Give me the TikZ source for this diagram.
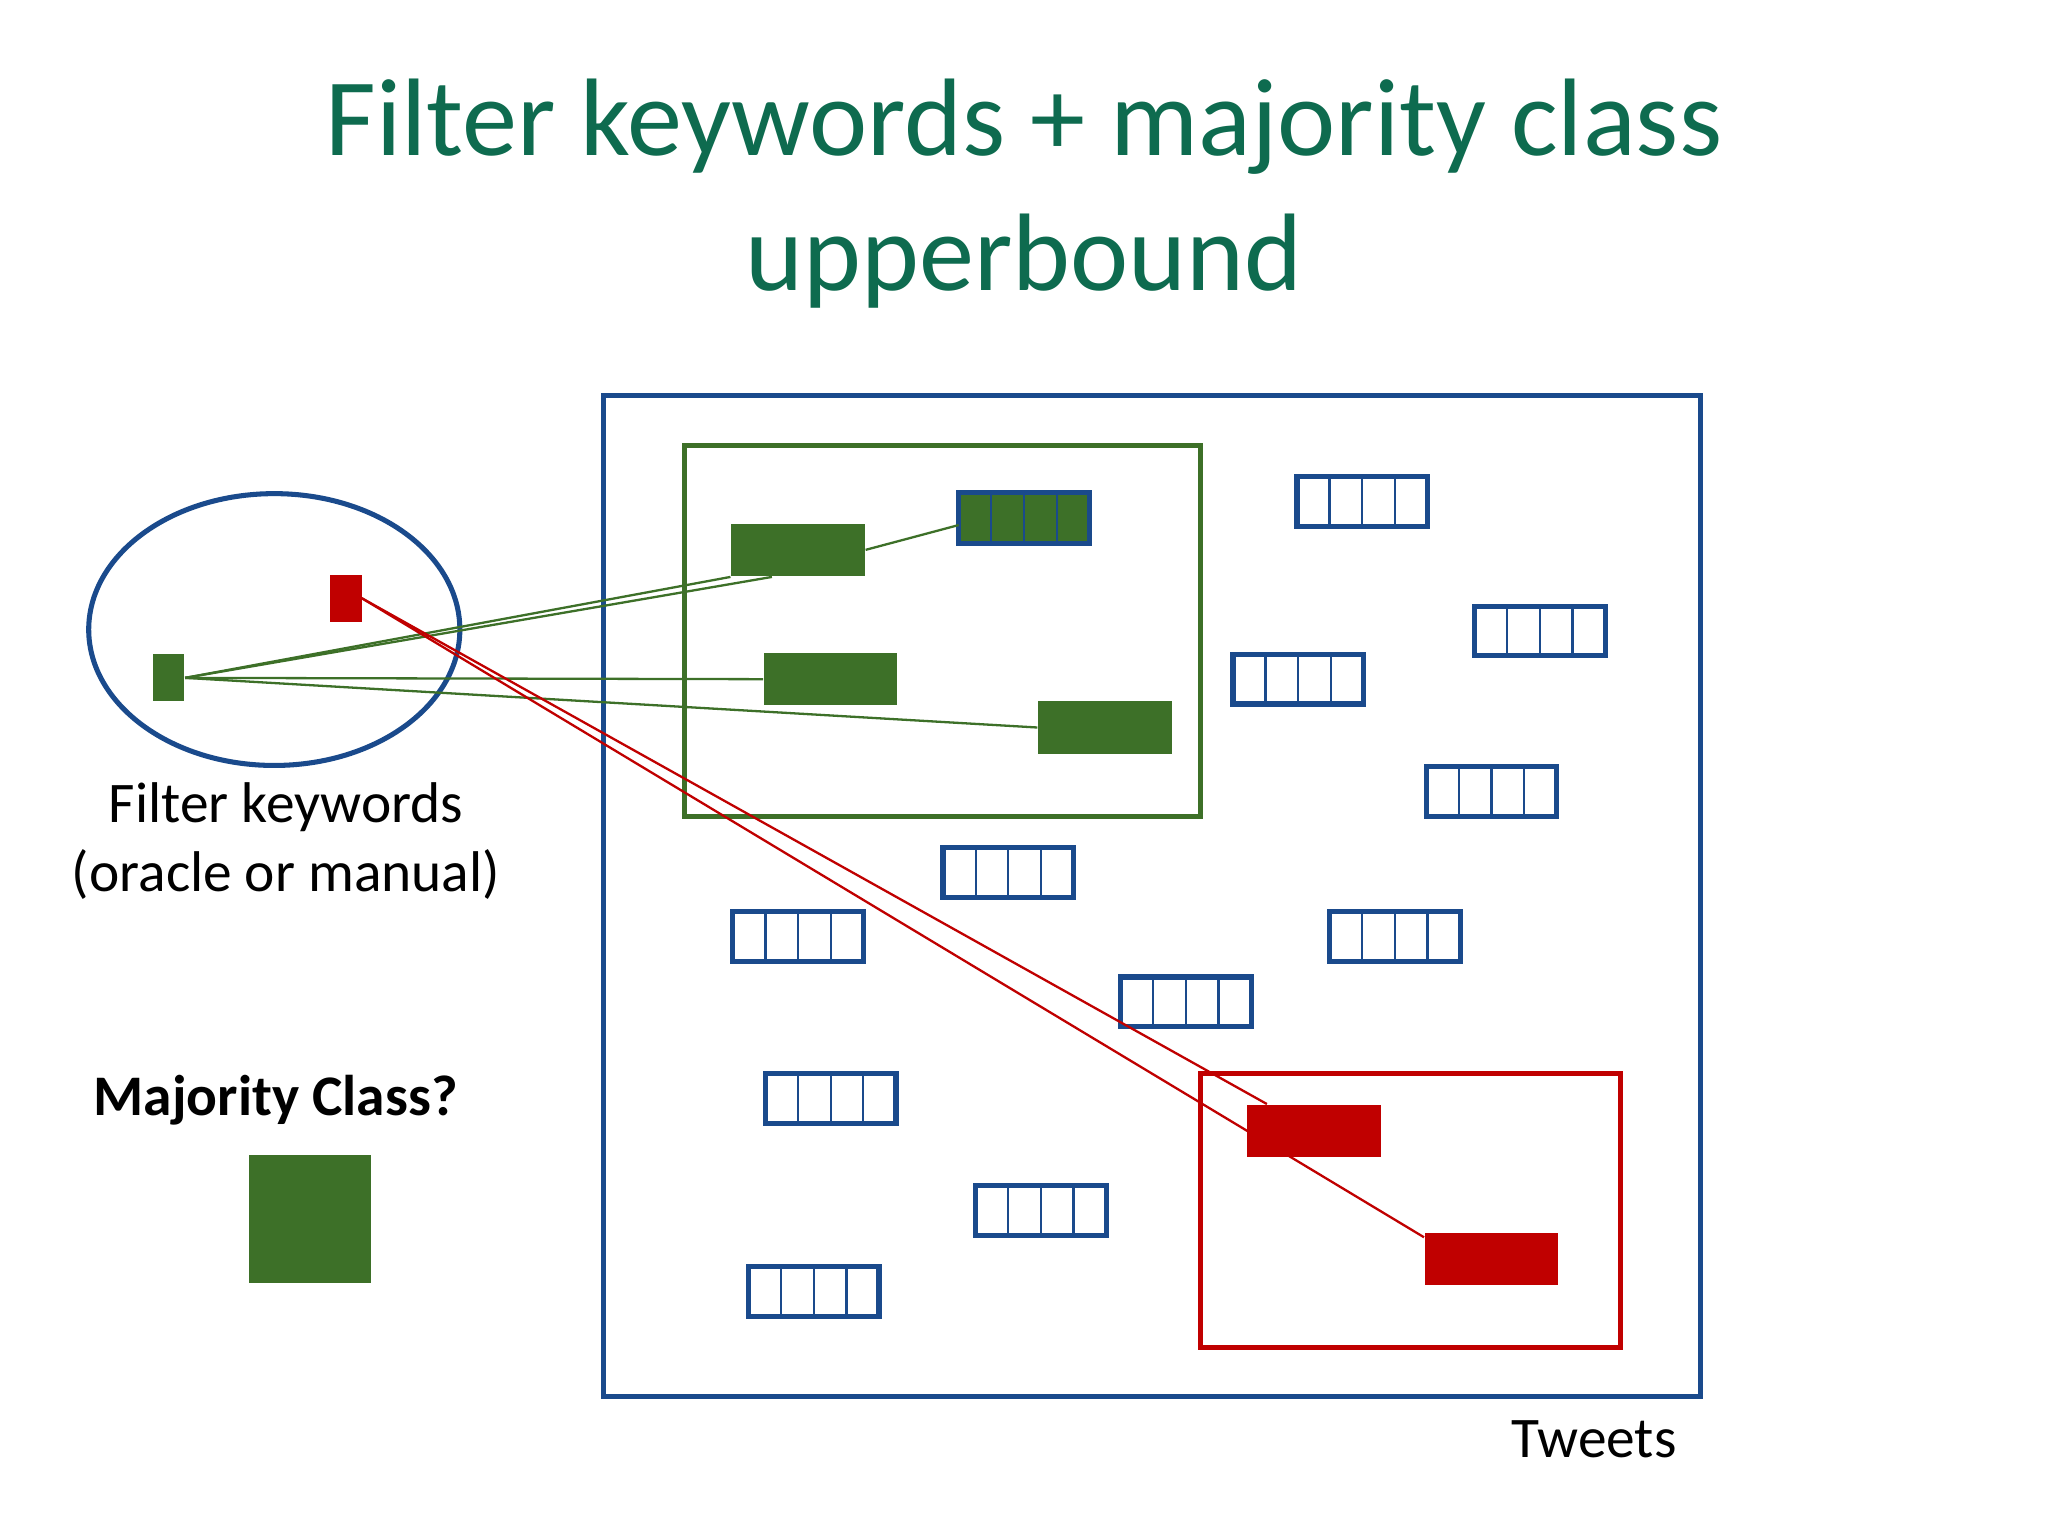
\documentclass[tikz,border=0pt]{standalone}
\usepackage{fontspec}
\setmainfont{Carlito}
\usetikzlibrary{shapes.geometric}
\definecolor{tgreen}{RGB}{14,107,79}
\definecolor{bblue}{RGB}{26,74,140}
\definecolor{fgreen}{RGB}{61,112,40}
\definecolor{fred}{RGB}{192,0,0}
\begin{document}
\begin{tikzpicture}[x=0.01cm,y=-0.01cm,
  gbox/.style={fill=fgreen,draw=none,minimum width=1.02cm,minimum height=0.40cm,inner sep=0},
  rbox/.style={fill=fred,draw=none,minimum width=1.02cm,minimum height=0.40cm,inner sep=0},
  lbl/.style={font=\fontsize{12.5}{15}\selectfont,align=center}]
\useasboundingbox (0,0) rectangle (1568,1176);
\fill[white] (0,0) rectangle (1568,1176);
\node[text=tgreen,font=\fontsize{24}{28}\selectfont] at (784,97) {Filter keywords + majority class};
\node[text=tgreen,font=\fontsize{24}{28}\selectfont] at (784,200) {upperbound};
% containers
\draw[bblue,line width=1.1pt] (462,303) rectangle (1302,1069);
\node[lbl,anchor=east] at (1296,1102) {Tweets};
\draw[fgreen,line width=1.1pt] (524,341) rectangle (919,625);
\draw[fred,line width=1.1pt] (919,822) rectangle (1241,1032);
% ellipse
\node[ellipse,draw=bblue,line width=1.1pt,minimum width=2.84cm,minimum height=2.08cm] (ell) at (210,482) {};
\node[fill=fgreen,minimum width=0.24cm,minimum height=0.36cm,inner sep=0] (kg) at (129,519) {};
\node[fill=fred,minimum width=0.24cm,minimum height=0.36cm,inner sep=0] (kr) at (265,458) {};
\node[lbl] at (219,644) {Filter keywords\\(oracle or manual)};
\node[lbl,font=\fontsize{12.5}{15}\selectfont\bfseries] at (211,842) {Majority Class?};
\node[fill=fgreen,minimum width=0.93cm,minimum height=0.98cm,inner sep=0] (mc) at (237.5,933) {};
% green filled
\node[gbox] (g1) at (611,421) {};
\node[gbox] (g2) at (636,520) {};
\node[gbox] (g3) at (846,557) {};
\node[rbox] (r1) at (1006,866) {};
\node[rbox] (r2) at (1142,964) {};
% cell boxes
\foreach \x/\y/\n in {993/365/a,1129/464/b,944/501/c,1092/587/d,722/649/e,561/698/f,1018/698/g,858/748/h,586/822/i,747/908/j,573/970/k}{
  \draw[bblue,line width=1.1pt] (\x,\y) rectangle ++(100,38);
  \foreach \k in {1,2,3} \draw[bblue,line width=0.5pt] (\x+25*\k,\y) -- ++(0,38);
}
\fill[fgreen] (734,377) rectangle (834,416);
\draw[bblue,line width=1.1pt] (734,377) rectangle (834,416);
\foreach \k in {1,2,3} \draw[bblue,line width=0.5pt] (734+25*\k,377) -- ++(0,39);
\coordinate (gc) at (734,402);
% connectors
\draw[fgreen,line width=0.5pt] (kg.east) -- (g1.south west);
\draw[fgreen,line width=0.5pt] (kg.east) -- ([xshift=-0.2cm]g1.south);
\draw[fgreen,line width=0.5pt] (g1.east) -- (gc);
\draw[fgreen,line width=0.5pt] (kg.east) -- (g2.west);
\draw[fgreen,line width=0.5pt] (kg.east) -- (g3.west);
\coordinate (re) at (277,458);
\draw[fred,line width=0.5pt] (re) -- ([xshift=-0.36cm]r1.north);
\draw[fred,line width=0.5pt] (re) -- ([yshift=-0.04cm]r2.north west);
\end{tikzpicture}
\end{document}
